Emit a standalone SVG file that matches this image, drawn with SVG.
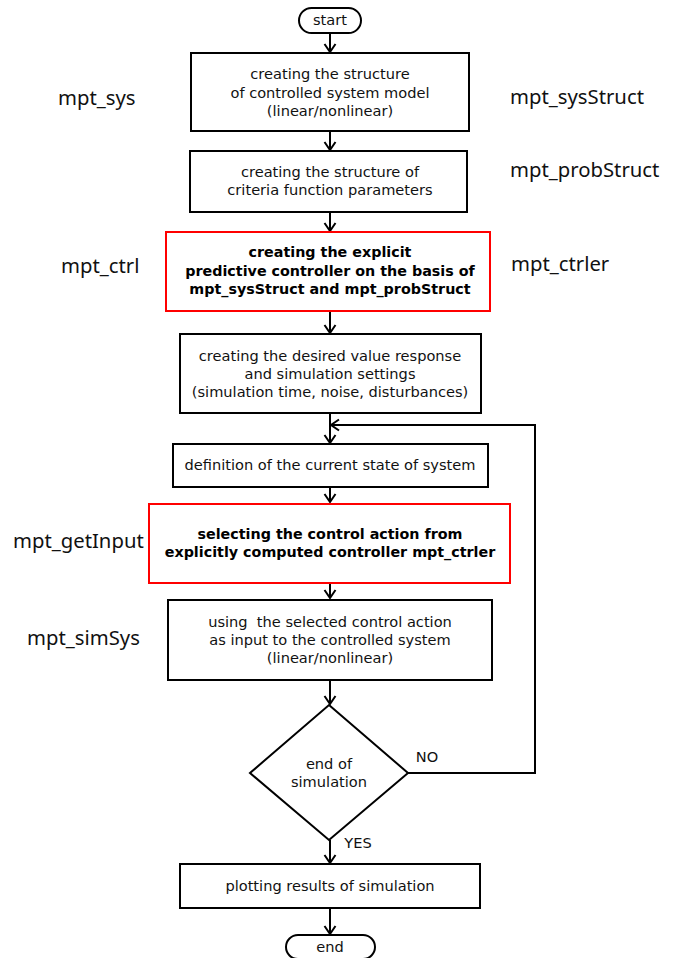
<svg xmlns="http://www.w3.org/2000/svg" width="674" height="958" viewBox="0 0 674 958">
<style>
.box{fill:#fff;stroke:#000;stroke-width:2}
.red{fill:#fff;stroke:#f00;stroke-width:2}
.t{font-family:"DejaVu Sans",sans-serif;font-size:14.6px;fill:#111;text-anchor:middle}
.b{font-family:"DejaVu Sans",sans-serif;font-size:14.3px;font-weight:bold;fill:#000;text-anchor:middle}
.side{font-family:"Noto Sans","Open Sans",sans-serif;font-size:20.3px;fill:#111}
.c{fill:none;stroke:#000;stroke-width:2}
</style>
<defs>
<marker id="a" markerWidth="14" markerHeight="14" refX="9" refY="7" orient="auto" markerUnits="userSpaceOnUse" viewBox="0 0 14 14">
<path d="M1,1.5 L9,7 L1,12.5" fill="none" stroke="#000" stroke-width="2"/>
</marker>
</defs>
<rect width="674" height="958" fill="#fff"/>
<g id="connectors">
<line class="c" x1="330" y1="33" x2="330" y2="52" marker-end="url(#a)"/>
<line class="c" x1="330" y1="131" x2="330" y2="150" marker-end="url(#a)"/>
<line class="c" x1="330" y1="212" x2="330" y2="231" marker-end="url(#a)"/>
<line class="c" x1="330" y1="311" x2="330" y2="333" marker-end="url(#a)"/>
<line class="c" x1="330" y1="413" x2="330" y2="443" marker-end="url(#a)"/>
<line class="c" x1="330" y1="487" x2="330" y2="502" marker-end="url(#a)"/>
<line class="c" x1="330" y1="583" x2="330" y2="598" marker-end="url(#a)"/>
<line class="c" x1="330" y1="680" x2="330" y2="704" marker-end="url(#a)"/>
<line class="c" x1="330" y1="840" x2="330" y2="863" marker-end="url(#a)"/>
<line class="c" x1="330" y1="908" x2="330" y2="934" marker-end="url(#a)"/>
<polyline class="c" points="408,773 535,773 535,425 331,425" marker-end="url(#a)"/>
</g>
<g id="start">
<rect class="box" x="299" y="8" width="62" height="25" rx="12.5"/>
<text class="t" x="330" y="25">start</text>
</g>
<g id="n1">
<rect class="box" x="191" y="53" width="278" height="78"/>
<text class="t" x="330" y="79">creating the structure</text>
<text class="t" x="330" y="98">of controlled system model</text>
<text class="t" x="330" y="116">(linear/nonlinear)</text>
</g>
<g id="n2">
<rect class="box" x="190" y="151" width="277" height="61"/>
<text class="t" x="330" y="177">creating the structure of</text>
<text class="t" x="330" y="195">criteria function parameters</text>
</g>
<g id="n3">
<rect class="red" x="166" y="232" width="324" height="79"/>
<text class="b" x="330" y="257">creating the explicit</text>
<text class="b" x="330" y="276">predictive controller on the basis of</text>
<text class="b" x="330" y="294">mpt_sysStruct and mpt_probStruct</text>
</g>
<g id="n4">
<rect class="box" x="180" y="334" width="301" height="79"/>
<text class="t" x="330" y="361">creating the desired value response</text>
<text class="t" x="330" y="379">and simulation settings</text>
<text class="t" x="330" y="397">(simulation time, noise, disturbances)</text>
</g>
<g id="n5">
<rect class="box" x="173" y="444" width="315" height="43"/>
<text class="t" x="330" y="470">definition of the current state of system</text>
</g>
<g id="n6">
<rect class="red" x="149" y="504" width="361" height="79"/>
<text class="b" x="330" y="539">selecting the control action from</text>
<text class="b" x="330" y="557">explicitly computed controller mpt_ctrler</text>
</g>
<g id="n7">
<rect class="box" x="168" y="600" width="324" height="80"/>
<text class="t" x="330" y="627" xml:space="preserve">using  the selected control action</text>
<text class="t" x="330" y="645">as input to the controlled system</text>
<text class="t" x="330" y="663">(linear/nonlinear)</text>
</g>
<g id="decision">
<polygon class="box" points="329,705 408,773 329,840 250,773"/>
<text class="t" x="329" y="769">end of</text>
<text class="t" x="329" y="787">simulation</text>
<text class="t" x="427" y="762">NO</text>
<text class="t" x="358" y="848">YES</text>
</g>
<g id="n8">
<rect class="box" x="180" y="864" width="300" height="44"/>
<text class="t" x="330" y="891">plotting results of simulation</text>
</g>
<g id="end">
<rect class="box" x="286" y="935" width="89" height="24" rx="12"/>
<text class="t" x="330" y="952">end</text>
</g>
<g id="labels">
<text class="side" x="58" y="105">mpt_sys</text>
<text class="side" x="510" y="104">mpt_sysStruct</text>
<text class="side" x="510" y="177">mpt_probStruct</text>
<text class="side" x="61" y="273">mpt_ctrl</text>
<text class="side" x="511" y="271">mpt_ctrler</text>
<text class="side" x="13" y="548">mpt_getInput</text>
<text class="side" x="27" y="645">mpt_simSys</text>
</g>
</svg>
